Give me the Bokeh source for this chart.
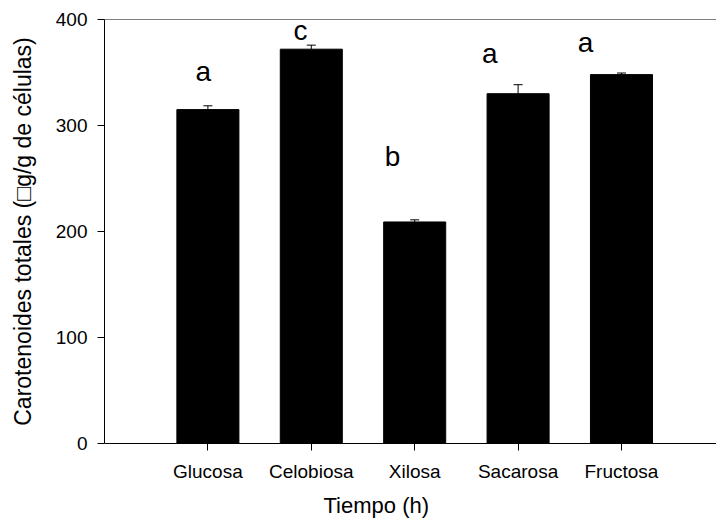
from bokeh.plotting import figure
from bokeh.models import (ColumnDataSource, Range1d, FixedTicker, Whisker, TeeHead, Span, Title)
from bokeh.core.properties import value
from bokeh.embed import file_html
from bokeh.resources import INLINE

categories = ["Glucosa", "Celobiosa", "Xilosa", "Sacarosa", "Fructosa"]
positions = [1, 2, 3, 4, 5]
means = [315, 372, 209, 330, 348]
errors = [3.6, 3.8, 2.0, 8.5, 1.5]
letters = ["a", "c", "b", "a", "a"]
letter_x = [0.955, 1.895, 2.785, 3.726, 4.652]
letter_y = [351, 390, 271, 368, 378]
y_ticks = [0, 100, 200, 300, 400]

FONT = "Liberation Sans"

upper = [m + e for m, e in zip(means, errors)]
src = ColumnDataSource(dict(x=positions, top=means, upper=upper))
lsrc = ColumnDataSource(dict(x=letter_x, y=letter_y, t=letters))

p = figure(width=716, height=524, output_backend="svg", toolbar_location=None,
           x_range=Range1d(0, 5.919), y_range=Range1d(0, 400),
           min_border_left=104, min_border_right=0, min_border_top=19,
           min_border_bottom=81)
p.outline_line_color = None
p.grid.grid_line_color = None
p.background_fill_color = "white"
p.border_fill_color = "white"

p.vbar(x="x", top="top", width=0.6, bottom=0, source=src,
       fill_color="black", line_color="black")

w = Whisker(base="x", lower="top", upper="upper", source=src,
            line_color="black", line_width=1,
            upper_head=TeeHead(size=9, line_color="black", line_width=1),
            lower_head=None)
p.add_layout(w)

p.text(x="x", y="y", text="t", source=lsrc, text_font=value(FONT),
       text_font_size="28px", text_align="center", text_baseline="alphabetic",
       text_color="black")

p.add_layout(Span(location=400, dimension="width", line_color="black", line_width=1))

p.xaxis.ticker = FixedTicker(ticks=positions)
p.xaxis.major_label_overrides = {i: c for i, c in zip(positions, categories)}
p.yaxis.ticker = FixedTicker(ticks=y_ticks)

for ax in (p.xaxis, p.yaxis):
    ax.minor_tick_line_color = None
    ax.major_tick_in = 0
    ax.major_tick_out = 7
    ax.axis_line_color = "black"
    ax.major_tick_line_color = "black"
    ax.major_label_text_font = FONT
    ax.major_label_text_font_size = "19px"
    ax.major_label_text_color = "black"
    ax.axis_label_text_font = FONT
    ax.axis_label_text_font_size = "23px"
    ax.axis_label_text_font_style = "normal"
    ax.axis_label_text_color = "black"

p.yaxis.axis_label = "Carotenoides totales (\u25a1g/g de células)"
p.xaxis.major_label_standoff = 10
p.yaxis.major_label_standoff = 10
p.yaxis.axis_label_standoff = 17

xt = Title(text="Tiempo (h)", align="left", offset=219, standoff=12,
           text_font=FONT, text_font_size="22px", text_font_style="normal",
           text_color="black")
p.add_layout(xt, "below")

open("out.html", "w").write(file_html(p, INLINE))
